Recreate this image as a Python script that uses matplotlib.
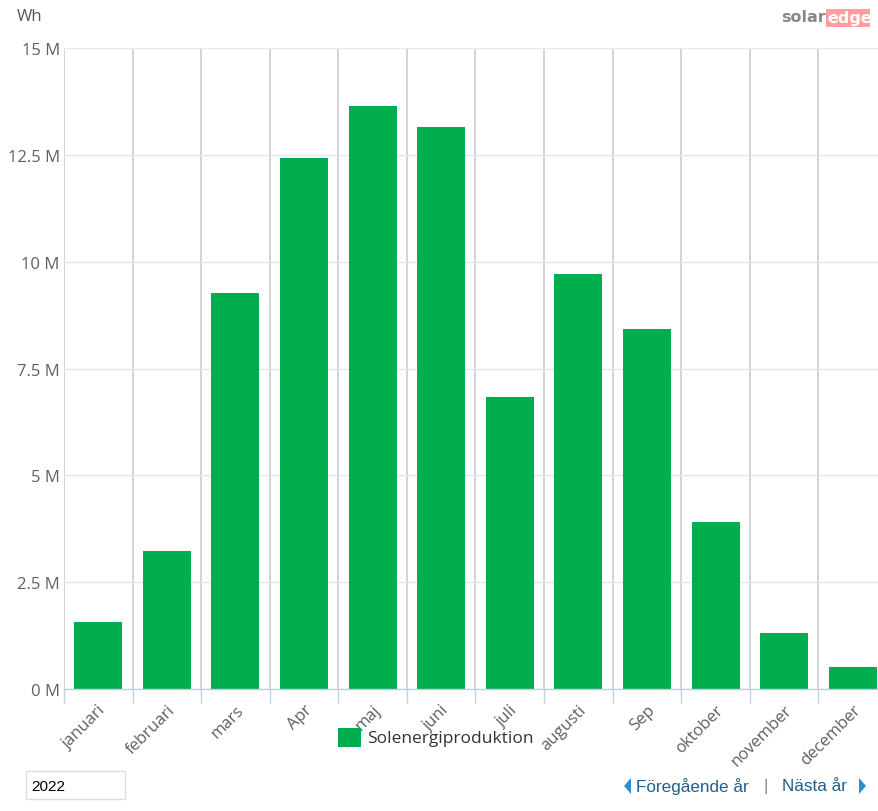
import matplotlib
matplotlib.use("Agg")
import matplotlib.pyplot as plt
from matplotlib.patches import Rectangle, Polygon
import numpy as np

months = ["januari", "februari", "mars", "Apr", "maj", "juni", "juli",
          "augusti", "Sep", "oktober", "november", "december"]
production_mwh = [1.57, 3.23, 9.27, 12.43, 13.64, 13.15, 6.83, 9.71, 8.42, 3.91, 1.31, 0.51]
ytick_vals = [0, 2.5, 5, 7.5, 10, 12.5, 15]
ytick_labels = ["0 M", "2.5 M", "5 M", "7.5 M", "10 M", "12.5 M", "15 M"]
series_name = "Solenergiproduktion"
year = "2022"

W, H = 879, 812
fig = plt.figure(figsize=(W / 100, H / 100), dpi=100)
fig.patch.set_facecolor("white")

def fx(px):
    return px / W

def fy(py):
    return 1 - py / H

ax_left, ax_right, ax_top, ax_bottom = 64, 887, 49, 690
ax = fig.add_axes([fx(ax_left), fy(ax_bottom), fx(ax_right - ax_left), (ax_bottom - ax_top) / H])

green = "#00ae4d"
x = np.arange(len(months))
ax.bar(x, production_mwh, width=0.70, color=green, zorder=3)
ax.set_xlim(-0.5, len(months) - 0.5)
ax.set_ylim(0, 15)

for s in ["top", "right", "left"]:
    ax.spines[s].set_visible(False)
ax.spines["bottom"].set_color("#c0d0e0")
ax.spines["bottom"].set_linewidth(1)
ax.spines["bottom"].set_zorder(4)

ax.set_yticks(ytick_vals)
ax.set_yticklabels(ytick_labels, fontsize=12, color="#606060", family="Open Sans")
ax.tick_params(axis="y", length=0, pad=3)
ax.yaxis.grid(True, color="#e0e8f2", linewidth=1, zorder=0)

ax.set_xticks(x)
ax.set_xticklabels(months, rotation=45, ha="right", va="top", rotation_mode="anchor",
                   fontsize=12, color="#606060", family="Open Sans")
ax.tick_params(axis="x", which="major", length=0, pad=9)
ax.set_xticks(np.arange(-0.5, len(months) + 0.5, 1), minor=True)
ax.tick_params(axis="x", which="minor", length=10, color="#c0d0e0", width=1)
ax.xaxis.grid(True, which="minor", color="#d0d0d0", linewidth=1.3, zorder=1)
ax.xaxis.grid(False, which="major")
ax.set_axisbelow(True)

# Unit label
fig.text(fx(17), fy(17), "Wh", fontsize=12, color="#555555", family="Open Sans",
         ha="left", va="center")

# Legend
fig.patches.append(Rectangle((fx(338), fy(748)), fx(23), 19 / H, transform=fig.transFigure,
                             facecolor=green, edgecolor="none"))
fig.text(fx(367), fy(739), series_name, fontsize=12.5, color="#333333", family="Open Sans",
         ha="left", va="center")

# solaredge logo
fig.patches.append(Rectangle((fx(826), fy(28)), fx(44), 18 / H, transform=fig.transFigure,
                             facecolor="#ff9e9e", edgecolor="none"))
fig.text(fx(781), fy(18), "solar", fontsize=11.5, color="#888888", family="DejaVu Sans",
         weight="bold", ha="left", va="center")
fig.text(fx(827), fy(18), "edge", fontsize=11.5, color="white", family="DejaVu Sans",
         weight="bold", ha="left", va="center")

# Year box
fig.patches.append(Rectangle((fx(26), fy(800)), fx(99), 28 / H, transform=fig.transFigure,
                             facecolor="white", edgecolor="#dddddd", linewidth=1))
fig.text(fx(31), fy(787), year, fontsize=11, color="black", family="Liberation Sans",
         ha="left", va="center")

# Navigation
navc = "#1f5f8f"
tri = "#2b8fd6"
fig.patches.append(Polygon([(fx(624), fy(787)), (fx(631), fy(779)), (fx(631), fy(795))],
                           closed=True, transform=fig.transFigure, facecolor=tri, edgecolor="none"))
fig.text(fx(636), fy(787), "Föregående år", fontsize=12.3, color=navc, family="Liberation Sans",
         ha="left", va="center")
fig.text(fx(766), fy(787), "|", fontsize=12, color="#888888", family="Liberation Sans",
         ha="center", va="center")
fig.text(fx(782), fy(787), "Nästa år", fontsize=12.3, color=navc, family="Liberation Sans",
         ha="left", va="center")
fig.patches.append(Polygon([(fx(866), fy(787)), (fx(859), fy(779)), (fx(859), fy(795))],
                           closed=True, transform=fig.transFigure, facecolor=tri, edgecolor="none"))

fig.savefig("out.png", dpi=100, facecolor="white")
